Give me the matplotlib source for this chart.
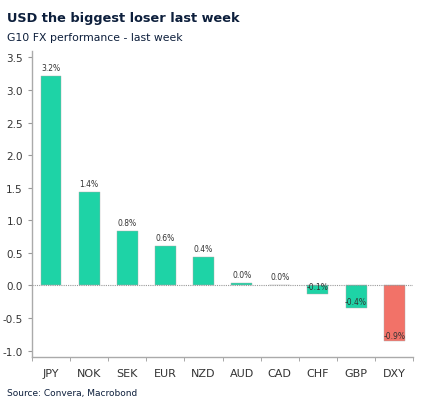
import matplotlib
matplotlib.use("Agg")
import matplotlib.pyplot as plt
import numpy as np

currencies = ["JPY", "NOK", "SEK", "EUR", "NZD", "AUD", "CAD", "CHF", "GBP", "DXY"]
values = [3.22, 1.43, 0.83, 0.60, 0.44, 0.04, 0.01, -0.13, -0.35, -0.86]
labels = ["3.2%", "1.4%", "0.8%", "0.6%", "0.4%", "0.0%", "0.0%", "-0.1%", "-0.4%", "-0.9%"]
colors = ["#1ed3a6"] * 9 + ["#f27268"]

fig = plt.figure(figsize=(4.26, 4.06), dpi=100)
ax = fig.add_axes([0.075, 0.118, 0.895, 0.754])
x = np.arange(len(currencies))
ax.bar(x, values, width=0.55, color=colors, edgecolor="#aaaaaa", linewidth=0.3, zorder=2)
for xi, v, l in zip(x, values, labels):
    if v >= 0:
        ax.text(xi, v + 0.06, l, ha="center", va="bottom", fontsize=5.5, color="#333333")
    elif v < -0.3:
        ax.text(xi, v + 0.03, l, ha="center", va="bottom", fontsize=5.5, color="#333333")
    else:
        ax.text(xi, 0.05, l, ha="center", va="top", fontsize=5.5, color="#333333", zorder=4)
ax.axhline(0, color="#999999", lw=0.8, ls=(0, (1, 1)), zorder=3)
ax.set_xlim(-0.5, len(currencies) - 0.5)
ax.set_ylim(-1.1, 3.6)
ax.set_yticks(np.arange(-1.0, 3.51, 0.5))
ax.set_yticklabels([f"{t:.1f}" for t in np.arange(-1.0, 3.51, 0.5)])
ax.set_xticks(x)
ax.set_xticklabels(currencies)
ax.set_xticks(np.arange(-0.5, len(currencies), 1), minor=True)
ax.tick_params(axis="x", which="major", length=0, labelsize=8, colors="#333333", pad=8)
ax.tick_params(axis="x", which="minor", length=3, color="#999999")
ax.tick_params(axis="y", labelsize=7.5, colors="#333333", length=3, color="#999999")
for s in ["top", "right"]:
    ax.spines[s].set_visible(False)
for s in ["left", "bottom"]:
    ax.spines[s].set_color("#aaaaaa")
    ax.spines[s].set_linewidth(1.0)

fig.text(0.016, 0.945, "USD the biggest loser last week", fontsize=9.3, fontweight="bold", color="#0d1f3c")
fig.text(0.016, 0.9, "G10 FX performance - last week", fontsize=7.8, color="#0d1f3c")
fig.text(0.016, 0.025, "Source: Convera, Macrobond", fontsize=6.5, color="#0d1f3c")
fig.savefig("out.png", dpi=100)
